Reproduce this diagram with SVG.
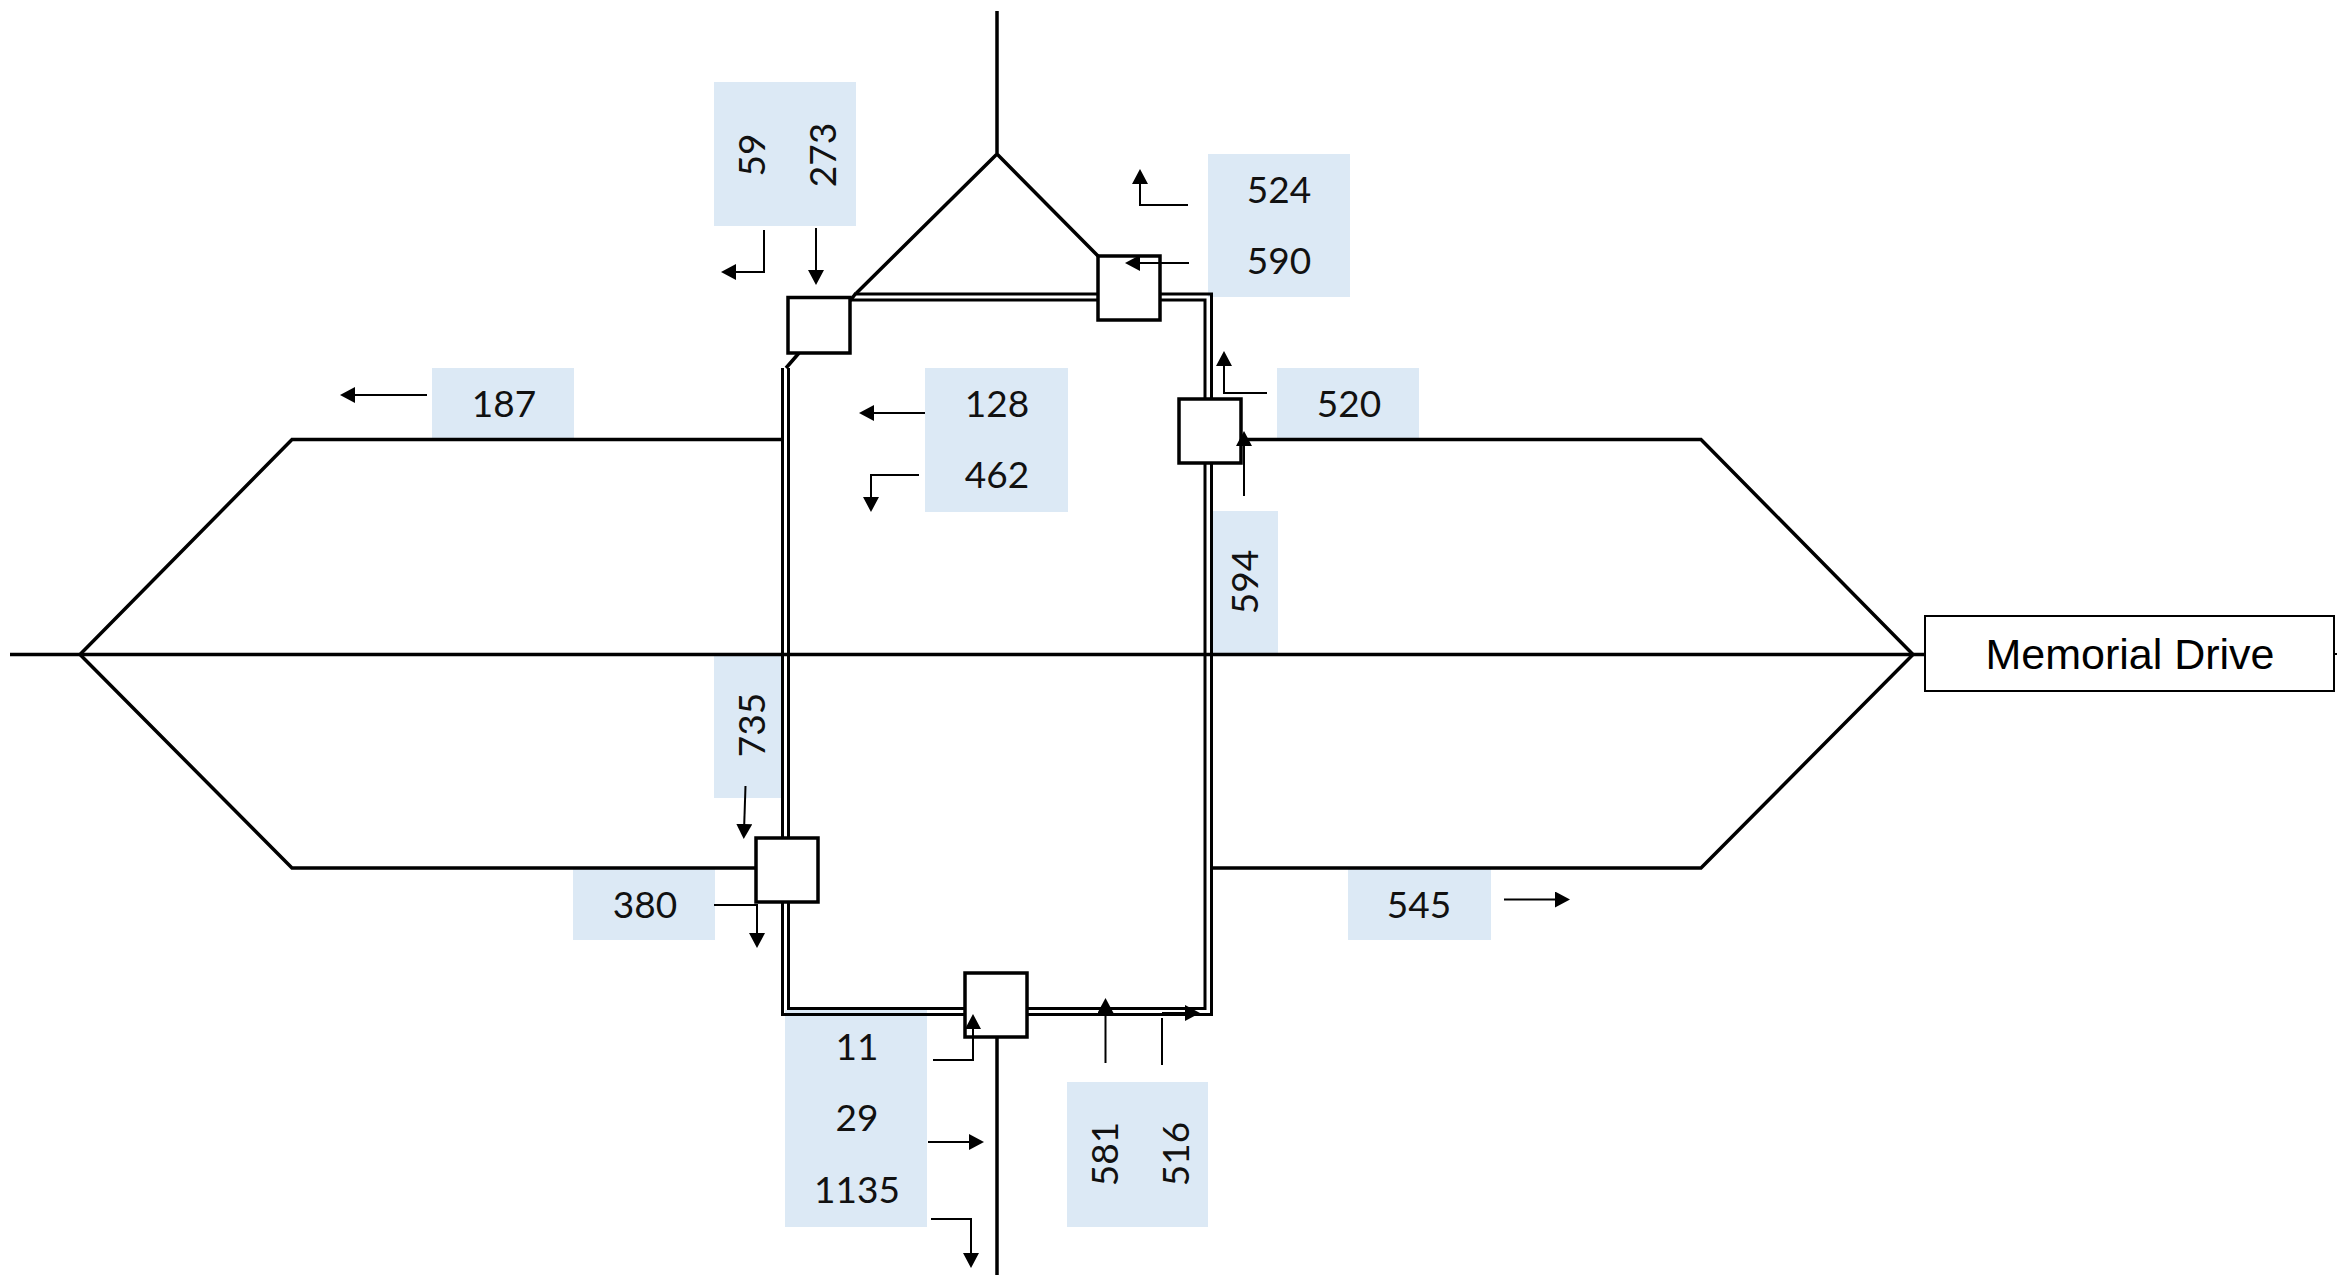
<svg xmlns="http://www.w3.org/2000/svg" width="2349" height="1275" viewBox="0 0 2349 1275">
<style>
.lb{fill:#dce9f5}
.t{font-family:"Lato","Open Sans",sans-serif;font-size:37px;fill:#111;text-anchor:middle}
.road{fill:none;stroke:#000;stroke-width:3.500}
.dbl{fill:none;stroke:#000;stroke-width:3}
.box{fill:#fff;stroke:#000;stroke-width:3.500}
.arr{fill:none;stroke:#000;stroke-width:2;marker-end:url(#ah)}
.lin{fill:none;stroke:#000;stroke-width:2}
</style>
<defs>
<marker id="ah" markerUnits="userSpaceOnUse" markerWidth="15" markerHeight="16" refX="7" refY="8" orient="auto"><path d="M0,0L15,8L0,16Z" fill="#000"/></marker>
</defs>
<rect width="2349" height="1275" fill="#fff"/>
<g id="labels">
<g id="label-59-273"><rect class="lb" x="714" y="82" width="142" height="144"/><text class="t" transform="translate(765,155) rotate(-90)">59</text><text class="t" transform="translate(836,155) rotate(-90)">273</text></g>
<g id="label-524-590"><rect class="lb" x="1208" y="154" width="142" height="143"/><text class="t" x="1279" y="203">524</text><text class="t" x="1279" y="274">590</text></g>
<g id="label-128-462"><rect class="lb" x="925" y="368" width="143" height="144"/><text class="t" x="997" y="417">128</text><text class="t" x="997" y="488">462</text></g>
<g id="label-187"><rect class="lb" x="432" y="368" width="142" height="71"/><text class="t" x="504" y="417">187</text></g>
<g id="label-520"><rect class="lb" x="1277" y="368" width="142" height="71"/><text class="t" x="1349" y="417">520</text></g>
<g id="label-594"><rect class="lb" x="1211" y="511" width="67" height="143"/><text class="t" transform="translate(1258,582) rotate(-90)">594</text></g>
<g id="label-735"><rect class="lb" x="714" y="654" width="69" height="144"/><text class="t" transform="translate(765,725) rotate(-90)">735</text></g>
<g id="label-380"><rect class="lb" x="573" y="868" width="142" height="72"/><text class="t" x="645" y="918">380</text></g>
<g id="label-545"><rect class="lb" x="1348" y="868" width="143" height="72"/><text class="t" x="1419" y="918">545</text></g>
<g id="label-11-29-1135"><rect class="lb" x="785" y="1010" width="142" height="217"/><text class="t" x="857" y="1060">11</text><text class="t" x="857" y="1131">29</text><text class="t" x="857" y="1203">1135</text></g>
<g id="label-581-516"><rect class="lb" x="1067" y="1082" width="141" height="145"/><text class="t" transform="translate(1118,1154) rotate(-90)">581</text><text class="t" transform="translate(1189,1154) rotate(-90)">516</text></g>
</g>
<g id="roads">
<path class="road" d="M997,11V154L856,293.500M997,154L1098,256"/>
<path class="road" d="M856,293L850,301M799,353L786,368"/>
<path class="road" d="M997,1037V1275"/>
<path class="road" d="M10,654.500H1925"/>
<path class="road" d="M782,439.500H292L80,654.500L292,868H756"/>
<path class="road" d="M1241,439.500H1701L1913,654.500L1701,868H1211"/>
<path class="dbl" d="M782.500,368V1014.500H1211.500V294H856"/>
<path class="dbl" d="M788.500,368V1008.500H1205V300H852"/>
</g>
<g id="node-top-left"><rect class="box" x="788" y="297.500" width="62" height="55.500"/></g>
<g id="node-top-right"><rect class="box" x="1098" y="256" width="62" height="64"/></g>
<g id="node-right"><rect class="box" x="1179" y="399" width="62" height="64"/></g>
<g id="node-left"><rect class="box" x="756" y="838" width="62" height="64"/></g>
<g id="node-bottom"><rect class="box" x="965" y="973" width="62" height="64"/></g>
<g id="node-memorial-drive"><rect x="1925" y="616" width="409" height="75" fill="#fff" stroke="#000" stroke-width="2"/><text x="2130" y="669" font-family="Liberation Sans,sans-serif" font-size="43" text-anchor="middle" fill="#000">Memorial Drive</text><path d="M2334,654H2337" stroke="#000" stroke-width="2"/></g>
<g id="connectors">
<path class="arr" d="M764,230V272H729"/>
<path class="arr" d="M816,228V277"/>
<path class="arr" d="M1188,205H1140V177"/>
<path class="arr" d="M1189,263H1133"/>
<path class="arr" d="M1267,393H1224V359"/>
<path class="arr" d="M1244,496V439"/>
<path class="arr" d="M925,413H867"/>
<path class="arr" d="M919,475H871V504"/>
<path class="arr" d="M427,395H348"/>
<path class="arr" d="M745.500,786L744,831"/>
<path class="arr" d="M714,905H757V940"/>
<path class="arr" d="M1504,899.500H1562"/>
<path class="arr" d="M933,1060H973V1022"/>
<path class="arr" d="M928,1142H976"/>
<path class="arr" d="M931,1219H971V1260"/>
<path class="arr" d="M1105.500,1063V1006"/>
<path class="lin" d="M1162,1065V1018"/>
<path class="arr" d="M1162,1013H1192"/>
</g>
</svg>
